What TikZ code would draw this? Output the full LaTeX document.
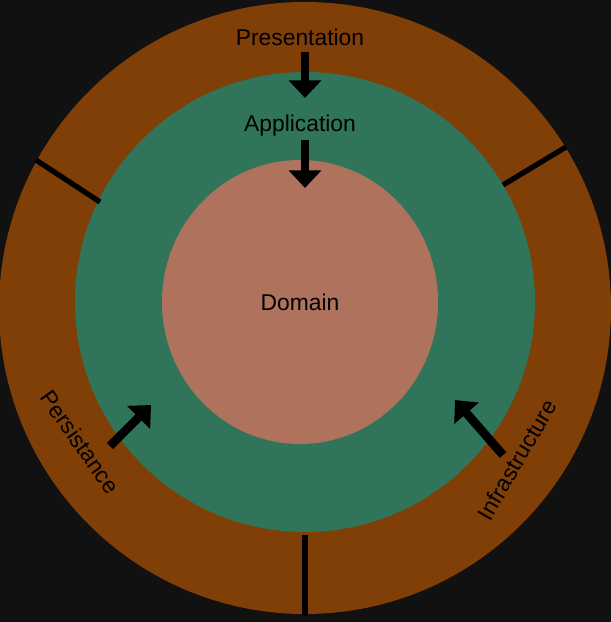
\documentclass[tikz,border=0pt]{standalone}
\usepackage{fontspec}
\setmainfont{Liberation Sans}
\usetikzlibrary{arrows.meta, positioning}

\begin{document}
\begin{tikzpicture}[
    x=0.02cm, y=-0.02cm,
    lbl/.style={font=\fontsize{13}{15}\selectfont, text=black},
    sep/.style={line width=3pt, draw=black},
    dep/.style={line width=5pt, -{Triangle[width=18pt, length=10pt]}}
]
% Background
\fill[fill={rgb,255:red,17;green,17;blue,17}] (0,0) rectangle (611,622);
\useasboundingbox (0,0) rectangle (611,622);

% Rings
\fill[fill={rgb,255:red,127;green,63;blue,6}] (305,308) circle[radius=306];
\fill[fill={rgb,255:red,48;green,117;blue,90}] (305,302) circle[radius=230];
\fill[fill={rgb,255:red,174;green,114;blue,93}] (300,302) ellipse[x radius=138, y radius=142];

% Separators
\coordinate (s1a) at (36,160);  \coordinate (s1b) at (100,202);
\coordinate (s2a) at (566,147); \coordinate (s2b) at (503,185);
\coordinate (s3a) at (305,535); \coordinate (s3b) at (305,616);
\draw[sep] (s1a) -- (s1b);
\draw[sep] (s2a) -- (s2b);
\draw[sep] (s3a) -- (s3b);

% Labels
\node[lbl] (pres) at (300,37) {Presentation};
\node[lbl] (app) at (300,126) {Application};
\node[lbl] (dom) at (300,302) {Domain};
\node[lbl, rotate=-55] (pers) at (80,442) {Persistance};
\node[lbl, rotate=60] (infra) at (517,460) {Infrastructure};

% Dependencies
\coordinate (a1a) at (305,52);  \coordinate (a1b) at (305,98);
\coordinate (a2a) at (305,140); \coordinate (a2b) at (305,188);
\coordinate (a3a) at (110,446); \coordinate (a3b) at (151,405);
\coordinate (a4a) at (503,455); \coordinate (a4b) at (455,400);
\draw[dep] (a1a) -- (a1b);
\draw[dep] (a2a) -- (a2b);
\draw[dep] (a3a) -- (a3b);
\draw[dep] (a4a) -- (a4b);
\end{tikzpicture}
\end{document}
